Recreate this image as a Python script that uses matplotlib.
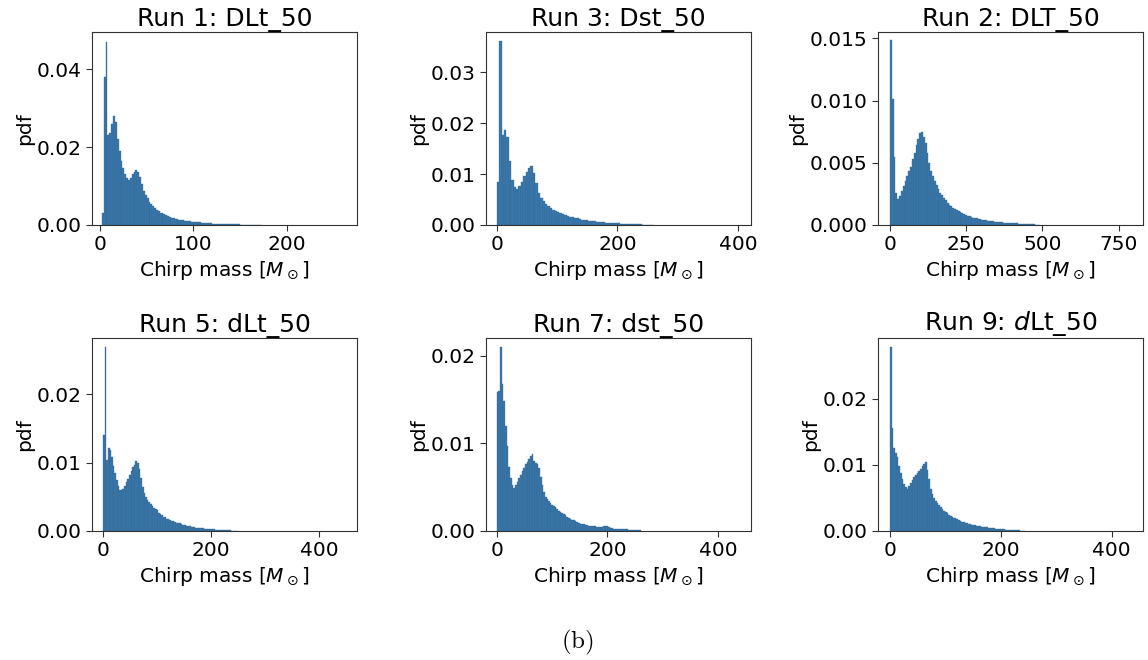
import numpy as np
import matplotlib
matplotlib.use("Agg")
import matplotlib.pyplot as plt
from matplotlib.ticker import FormatStrFormatter

# ---------------- data (bin start, bin width, pdf heights) ----------------
titles = ["Run 1: DLt_50", "Run 3: Dst_50", "Run 2: DLT_50",
          "Run 5: dLt_50", "Run 7: dst_50", "Run 9: $d$Lt_50"]

run1_start, run1_width = 2.0, 2.0
run1_pdf = [0.003, 0.038, 0.047, 0.023, 0.0235, 0.026, 0.028, 0.0265, 0.022, 0.019,
            0.0165, 0.0145, 0.013, 0.012, 0.0115, 0.012, 0.013, 0.0137, 0.0141, 0.0135,
            0.0122, 0.0105, 0.0088, 0.0076, 0.0068, 0.006, 0.0054, 0.0049, 0.0044, 0.0039,
            0.0036, 0.0032, 0.0030, 0.0027, 0.0025, 0.0023, 0.0021, 0.0019, 0.0018, 0.0016,
            0.0015, 0.0014, 0.0013, 0.0012, 0.0011, 0.0010, 0.00095, 0.0009, 0.00085, 0.0008,
            0.00075, 0.0007, 0.00065, 0.0006, 0.00055, 0.0005, 0.00047, 0.00044, 0.0004, 0.00037,
            0.00034, 0.00031, 0.00029, 0.00027, 0.00025, 0.00023, 0.00021, 0.0002, 0.00018, 0.00017,
            0.00016, 0.00015, 0.00014, 0.00013, 0.00012, 0.00011, 0.0001, 0.0001, 0.00009, 0.00008,
            0.00007, 0.00006, 0.00006, 0.00005, 0.00004, 0.00003]

run3_start, run3_width = 0.0, 4.0
run3_pdf = [0.0085, 0.0362, 0.0177, 0.0186, 0.0172, 0.0125, 0.0088, 0.0074, 0.0071, 0.0076,
            0.0085, 0.0096, 0.0104, 0.0111, 0.0115, 0.0102, 0.0082, 0.0062, 0.0053, 0.0047,
            0.0042, 0.0037, 0.0033, 0.0030, 0.0027, 0.0025, 0.0023, 0.0021, 0.0019, 0.0017,
            0.0016, 0.0015, 0.0014, 0.0013, 0.0011, 0.0010, 0.00095, 0.0009, 0.00082, 0.00076,
            0.0007, 0.00065, 0.0006, 0.00055, 0.0005, 0.00046, 0.00042, 0.0004, 0.00037, 0.00034,
            0.0003, 0.00027, 0.00025, 0.00022, 0.0002, 0.00018, 0.00016, 0.00014, 0.00012, 0.0001,
            0.00008, 0.00005, 0.00003, 0.00002, 0.00001]

run2_start, run2_width = 0.0, 6.0
run2_pdf = [0.0149, 0.0101, 0.0055, 0.0026, 0.0021, 0.0023, 0.0027, 0.0031, 0.0035, 0.0039,
            0.0043, 0.0047, 0.0053, 0.0058, 0.0064, 0.0069, 0.0074, 0.0075, 0.0071, 0.0066,
            0.0058, 0.0050, 0.0043, 0.0039, 0.0035, 0.0032, 0.0029, 0.0026, 0.0024, 0.0022,
            0.0020, 0.0018, 0.0016, 0.0015, 0.0014, 0.0013, 0.0012, 0.0011, 0.00105, 0.0010,
            0.0009, 0.00083, 0.00075, 0.0007, 0.00065, 0.0006, 0.00056, 0.00053, 0.0005, 0.00046,
            0.00043, 0.0004, 0.00037, 0.00035, 0.00033, 0.00031, 0.0003, 0.00028, 0.00026, 0.00024,
            0.00023, 0.00021, 0.0002, 0.00019, 0.00018, 0.00017, 0.00016, 0.00015, 0.00014, 0.00013,
            0.00012, 0.00011, 0.0001, 0.0001, 0.00009, 0.00008, 0.00007, 0.00006, 0.00005, 0.00004,
            0.00003, 0.00002]

run5_start, run5_width = 0.0, 3.0
run5_pdf = [0.0141, 0.0269, 0.0104, 0.0121, 0.0118, 0.0108, 0.0095, 0.0085, 0.0075, 0.0066,
            0.0060, 0.0060, 0.0062, 0.0066, 0.0071, 0.0076, 0.0082, 0.0088, 0.0093, 0.0097,
            0.0102, 0.0099, 0.0091, 0.0078, 0.0064, 0.0055, 0.0049, 0.0045, 0.0042, 0.0039,
            0.0036, 0.0034, 0.0032, 0.0030, 0.0027, 0.0025, 0.0023, 0.0021, 0.0020, 0.0018,
            0.0017, 0.0016, 0.0015, 0.0014, 0.0013, 0.0012, 0.00115, 0.0011, 0.0010, 0.00093,
            0.00086, 0.0008, 0.00074, 0.0007, 0.00064, 0.0006, 0.00055, 0.0005, 0.00047, 0.00044,
            0.0004, 0.00037, 0.00035, 0.00033, 0.0003, 0.00028, 0.00026, 0.00024, 0.00022, 0.0002,
            0.00019, 0.00017, 0.00016, 0.00015, 0.00013, 0.00012, 0.0001, 0.00009, 0.00008, 0.00007,
            0.00006, 0.00005, 0.00004]

run7_start, run7_width = 0.0, 3.0
run7_pdf = [0.0158, 0.0160, 0.0210, 0.0167, 0.0148, 0.0120, 0.0097, 0.0073, 0.0060, 0.0052,
            0.0049, 0.0052, 0.0056, 0.0060, 0.0064, 0.0068, 0.0072, 0.0076, 0.0079, 0.0082,
            0.0085, 0.0088, 0.0080, 0.0077, 0.0076, 0.0072, 0.0062, 0.0052, 0.0045, 0.0039,
            0.0036, 0.0034, 0.0032, 0.0030, 0.0029, 0.0027, 0.0025, 0.0023, 0.0022, 0.0020,
            0.0019, 0.0018, 0.0016, 0.0015, 0.0014, 0.0013, 0.0012, 0.0011, 0.0010, 0.0009,
            0.00085, 0.0008, 0.00075, 0.0007, 0.00066, 0.00062, 0.0006, 0.00058, 0.00055, 0.00052,
            0.0005, 0.00048, 0.00046, 0.00045, 0.00055, 0.0006, 0.0006, 0.00045, 0.00035, 0.0003,
            0.00028, 0.00026, 0.00024, 0.00022, 0.00021, 0.0002, 0.0002, 0.00019, 0.00018, 0.00017,
            0.00016, 0.00015, 0.00013, 0.00012, 0.0001, 0.00008, 0.00006]

run9_start, run9_width = 0.0, 3.0
run9_pdf = [0.0278, 0.0156, 0.0125, 0.0118, 0.0112, 0.0098, 0.0088, 0.0079, 0.0071, 0.0066,
            0.0064, 0.0068, 0.0073, 0.0077, 0.0082, 0.0085, 0.0088, 0.0091, 0.0094, 0.0098,
            0.0102, 0.0105, 0.0092, 0.0078, 0.0064, 0.0056, 0.0050, 0.0045, 0.0042, 0.0039,
            0.0036, 0.0033, 0.0031, 0.0029, 0.0027, 0.0024, 0.0022, 0.0021, 0.0020, 0.0019,
            0.0018, 0.0016, 0.0015, 0.0014, 0.0013, 0.0012, 0.0012, 0.0011, 0.0010, 0.00095,
            0.0009, 0.00085, 0.0008, 0.00074, 0.0007, 0.00064, 0.0006, 0.00057, 0.00053, 0.0005,
            0.00046, 0.00043, 0.0004, 0.00036, 0.00033, 0.0003, 0.00028, 0.00026, 0.00024, 0.00022,
            0.0002, 0.0002, 0.00018, 0.00016, 0.00014, 0.00012, 0.0001, 0.00008, 0.00006, 0.00005,
            0.00004]

x_limits = [(-8.6, 275.5), (-17.7, 421.4), (-39.3, 829.6),
            (-20.4, 470.0), (-19.4, 459.7), (-21.7, 456.7)]
y_limits = [0.0495, 0.0379, 0.01551, 0.0282, 0.0220, 0.0292]
x_ticks = [[0, 100, 200], [0, 200, 400], [0, 250, 500, 750],
           [0, 200, 400], [0, 200, 400], [0, 200, 400]]
y_ticks = [[0, 0.02, 0.04], [0, 0.01, 0.02, 0.03], [0, 0.005, 0.010, 0.015],
           [0, 0.01, 0.02], [0, 0.01, 0.02], [0, 0.01, 0.02]]
y_formats = ["%.2f", "%.2f", "%.3f", "%.2f", "%.2f", "%.2f"]

series = [(run1_start, run1_width, run1_pdf), (run3_start, run3_width, run3_pdf),
          (run2_start, run2_width, run2_pdf), (run5_start, run5_width, run5_pdf),
          (run7_start, run7_width, run7_pdf), (run9_start, run9_width, run9_pdf)]

# ---------------- figure ----------------
fig = plt.figure(figsize=(11.48, 6.60), dpi=100)
W, H = 1148, 660
col_left = [92, 486, 878]
row_top = [32, 338]
ax_w, ax_h = 265, 193

bar_color = "#3a77aa"
spine_color = "#333333"

for i, (start, width, pdf) in enumerate(series):
    r, c = divmod(i, 3)
    left = col_left[c] / W
    bottom = 1 - (row_top[r] + ax_h) / H
    ax = fig.add_axes([left, bottom, ax_w / W, ax_h / H])
    pdf = np.asarray(pdf)
    edges = start + width * np.arange(len(pdf) + 1)
    ax.bar(edges[:-1], pdf, width=width, align="edge", color=bar_color,
           edgecolor="#2f6690", linewidth=0.25)
    ax.set_xlim(*x_limits[i])
    ax.set_ylim(0, y_limits[i])
    ax.set_xticks(x_ticks[i])
    ax.set_yticks(y_ticks[i])
    ax.yaxis.set_major_formatter(FormatStrFormatter(y_formats[i]))
    ax.tick_params(labelsize=14.5, color=spine_color, width=0.8, length=4)
    for s in ax.spines.values():
        s.set_color(spine_color)
        s.set_linewidth(0.8)
    ax.set_title(titles[i], fontsize=18, pad=4)
    ax.set_xlabel(r"Chirp mass [$M_\odot$]", fontsize=14.5, labelpad=3)
    ax.set_ylabel("pdf", fontsize=14.5, labelpad=2)

fig.text(577 / W, 1 - 642 / H, r"$\mathrm{(b)}$", math_fontfamily="cm",
         fontsize=18, ha="center", va="center")

fig.savefig("out.png", dpi=100)
